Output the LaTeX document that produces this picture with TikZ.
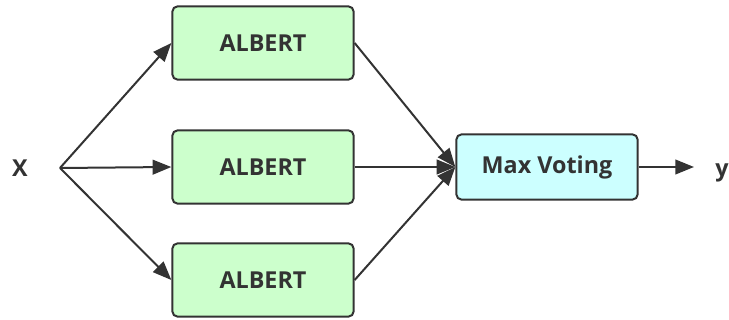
\documentclass[tikz,border=0pt]{standalone}
\usepackage{fontspec}
\setmainfont{Open Sans}
\usetikzlibrary{arrows.meta}

\definecolor{boxgreen}{HTML}{CCFFCC}
\definecolor{boxcyan}{HTML}{CCFFFF}
\definecolor{linegray}{HTML}{333333}

\begin{document}
\begin{tikzpicture}[x=0.75pt, y=-0.75pt,
    every node/.style={font=\fontsize{17.5}{20}\selectfont\bfseries, text=linegray},
    model/.style={draw=linegray, line width=1.5pt, rounded corners=4pt, fill=boxgreen,
        minimum width=136pt, minimum height=55pt},
    voter/.style={draw=linegray, line width=1.5pt, rounded corners=4pt, fill=boxcyan,
        minimum width=136pt, minimum height=49pt},
    arr/.style={-{Triangle[length=14pt,width=11pt]}, line width=1.5pt, draw=linegray}]
            \useasboundingbox (0,0) rectangle (729,320);

            % input and branch point
            \node[anchor=base] (x) at (20,177) {X};
            \coordinate (branch) at (60,168);

            % three ALBERT models
            \node[model] (m1) at (263,43) {ALBERT};
            \node[model] (m2) at (263,167) {ALBERT};
            \node[model] (m3) at (263,280) {ALBERT};

            % voting and output
            \node[voter] (vote) at (547,167) {Max Voting};
            \node[anchor=base] (y) at (722,177) {y};
            \coordinate (out) at (694,167);

            \draw[arr] (branch) -- (m1.west);
            \draw[arr] (branch) -- (m2.west);
            \draw[arr] (branch) -- (m3.west);

            \draw[arr] (m1.east) -- (vote.west);
            \draw[arr] (m2.east) -- (vote.west);
            \draw[arr] (m3.east) -- (vote.west);

            \draw[arr] (vote.east) -- (out);
        \end{tikzpicture}
\end{document}
